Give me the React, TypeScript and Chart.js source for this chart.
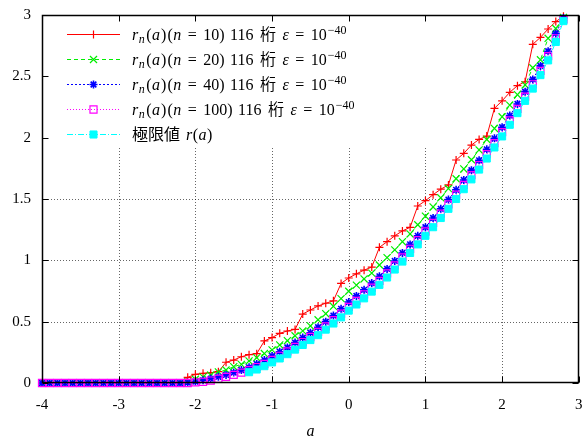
import React, { useEffect, useRef } from 'react';
import { Chart, registerables } from 'chart.js';
import { drawPoint } from 'chart.js/helpers';

Chart.register(...registerables);

// ---- data ----
const aValues = [
  -4, -3.9, -3.8, -3.7, -3.6, -3.5, -3.4, -3.3, -3.2, -3.1, -3, -2.9, -2.8, -2.7, -2.6, -2.5, -2.4, -2.3,
  -2.2, -2.1, -2, -1.9, -1.8, -1.7, -1.6, -1.5, -1.4, -1.3, -1.2, -1.1, -1, -0.9, -0.8, -0.7, -0.6, -0.5,
  -0.4, -0.3, -0.2, -0.1, 0, 0.1, 0.2, 0.3, 0.4, 0.5, 0.6, 0.7, 0.8, 0.9, 1, 1.1, 1.2, 1.3, 1.4, 1.5,
  1.6, 1.7, 1.8, 1.9, 2, 2.1, 2.2, 2.3, 2.4, 2.5, 2.6, 2.7, 2.8,
];

const rN10 = [
  0, 0, 0, 0, 0, 0, 0, 0, 0, 0, 0, 0, 0, 0, 0, 0, 0, 0,
  0, 0.046, 0.071, 0.079, 0.084, 0.092, 0.169, 0.187, 0.214, 0.231, 0.239, 0.343, 0.37, 0.405, 0.424, 0.437, 0.562, 0.595,
  0.628, 0.65, 0.67, 0.812, 0.856, 0.89, 0.92, 0.945, 1.106, 1.152, 1.2, 1.24, 1.269, 1.443, 1.486, 1.535, 1.58, 1.615, 1.818, 1.872,
  1.94, 1.986, 2.013, 2.239, 2.3, 2.37, 2.424, 2.456, 2.761, 2.818, 2.886, 2.946, 2.99,
];

const rN20 = [
  0, 0, 0, 0, 0, 0, 0, 0, 0, 0, 0, 0, 0, 0, 0, 0, 0, 0,
  0, 0.01, 0.03, 0.05, 0.065, 0.09, 0.106, 0.133, 0.152, 0.18, 0.206, 0.24, 0.27, 0.31, 0.345, 0.385, 0.425, 0.465,
  0.515, 0.565, 0.625, 0.688, 0.748, 0.798, 0.848, 0.896, 0.962, 1.022, 1.085, 1.152, 1.215, 1.29, 1.36, 1.435, 1.51, 1.585, 1.665, 1.745,
  1.82, 1.9, 1.985, 2.075, 2.17, 2.265, 2.35, 2.43, 2.57, 2.635, 2.81, 2.89, 2.98,
];

const rN40 = [
  0, 0, 0, 0, 0, 0, 0, 0, 0, 0, 0, 0, 0, 0, 0, 0, 0, 0,
  0, 0.003, 0.012, 0.022, 0.035, 0.05, 0.066, 0.085, 0.105, 0.128, 0.155, 0.187, 0.22, 0.255, 0.29, 0.33, 0.37, 0.41,
  0.455, 0.5, 0.55, 0.605, 0.66, 0.71, 0.76, 0.815, 0.87, 0.93, 0.995, 1.06, 1.13, 1.2, 1.27, 1.345, 1.42, 1.495, 1.575, 1.655,
  1.735, 1.815, 1.905, 1.995, 2.085, 2.18, 2.275, 2.375, 2.475, 2.585, 2.705, 2.85, 2.975,
];

const rN100 = [
  0, 0, 0, 0, 0, 0, 0, 0, 0, 0, 0, 0, 0, 0, 0, 0, 0, 0,
  0, 0, 0.005, 0.01, 0.02, 0.035, 0.05, 0.066, 0.085, 0.105, 0.13, 0.155, 0.188, 0.222, 0.257, 0.295, 0.334, 0.375,
  0.417, 0.462, 0.512, 0.565, 0.62, 0.67, 0.722, 0.777, 0.833, 0.893, 0.958, 1.024, 1.094, 1.165, 1.235, 1.305, 1.38, 1.456, 1.535, 1.615,
  1.695, 1.777, 1.865, 1.955, 2.045, 2.14, 2.235, 2.335, 2.435, 2.545, 2.665, 2.81, 2.965,
];

// the limit curve is only plotted from a = -1.3 on
const rLimit = [
  null, null, null, null, null, null, null, null, null, null, null, null, null, null, null, null, null, null,
  null, null, null, null, null, null, null, null, null, 0.088, 0.11, 0.137, 0.168, 0.2, 0.235, 0.272, 0.31, 0.35,
  0.39, 0.435, 0.485, 0.535, 0.59, 0.64, 0.69, 0.745, 0.8, 0.86, 0.925, 0.99, 1.06, 1.13, 1.2, 1.27, 1.345, 1.42, 1.5, 1.58,
  1.66, 1.74, 1.83, 1.92, 2.01, 2.105, 2.2, 2.3, 2.4, 2.51, 2.63, 2.78, 2.95,
];

const xTicks = [-4, -3, -2, -1, 0, 1, 2, 3];
const xTickLabels = ['-4', '-3', '-2', '-1', '0', '1', '2', '3'];
const yTicks = [0, 0.5, 1, 1.5, 2, 2.5, 3];
const yTickLabels = ['0', '0.5', '1', '1.5', '2', '2.5', '3'];
const xTitle = 'a';
const seriesN = [10, 20, 40, 100];
const digitsText = '116';
const unitText = '桁';
const epsExponent = '−40';
const limitName = '極限値';

// ---- styles ----
const SERIF = '"Liberation Serif", "DejaVu Serif", serif';
const CJK = '"Noto Sans CJK JP", sans-serif';

type Seg = { t: string; it?: boolean; cjk?: boolean; sub?: boolean; sup?: boolean; gap?: number };

function seriesLabel(n: number): Seg[] {
  return [
    { t: 'r', it: true },
    { t: 'n', it: true, sub: true, gap: 0.5 },
    { t: '(', gap: 1.5 },
    { t: 'a', it: true, gap: 0.5 },
    { t: ')', gap: 1 },
    { t: '(', gap: 1 },
    { t: 'n', it: true, gap: 0.5 },
    { t: '=', gap: 6.5 },
    { t: String(n) + ')', gap: 6.5 },
    { t: digitsText, gap: 5.5 },
    { t: unitText, cjk: true, gap: 6.5 },
    { t: 'ε', it: true, gap: 6.5 },
    { t: '=', gap: 6.5 },
    { t: '10', gap: 6.5 },
    { t: epsExponent, sup: true, gap: 1 },
  ];
}

const limitLabel: Seg[] = [
  { t: limitName, cjk: true },
  { t: 'r', it: true, gap: 6 },
  { t: '(', gap: 0.5 },
  { t: 'a', it: true, gap: 0.5 },
  { t: ')', gap: 0.5 },
];

const seriesValues = [rN10, rN20, rN40, rN100, rLimit];
const seriesLabels: Seg[][] = [...seriesN.map(seriesLabel), limitLabel];
const seriesStyles = [
  { color: '#ff0000', dash: [] as number[], point: 'cross', radius: 4, fill: false, bw: 1.2 },
  { color: '#00ee00', dash: [4, 3], point: 'crossRot', radius: 5, fill: false, bw: 1.2 },
  { color: '#0000ff', dash: [2, 2], point: 'star', radius: 4, fill: false, bw: 1.6 },
  { color: '#ff00ff', dash: [1, 2], point: 'rect', radius: 5, fill: false, bw: 1.2 },
  { color: '#00ffff', dash: [6, 2, 1, 2], point: 'rect', radius: 5, fill: true, bw: 1 },
];

const FS = 16;

function drawRich(ctx: CanvasRenderingContext2D, x: number, baseY: number, segs: Seg[]) {
  let cx = x;
  for (const s of segs) {
    if (s.gap) cx += s.gap;
    if (!s.t) continue;
    const size = s.sub || s.sup ? Math.round(FS * 0.72) : FS;
    const fam = s.cjk ? CJK : SERIF;
    ctx.font = `${s.it ? 'italic ' : ''}${size}px ${fam}`;
    let y = baseY;
    if (s.sub) y += 3;
    if (s.sup) y -= 6;
    ctx.fillText(s.t, cx, y);
    cx += ctx.measureText(s.t).width;
  }
}

const framePlugin = {
  id: 'frame',
  beforeDatasetsDraw(chart: any) {
    const { ctx, chartArea: ca, scales } = chart;
    const xs = scales.x;
    const ys = scales.y;
    const legendBottom = ca.top + 132;
    ctx.save();
    ctx.strokeStyle = 'rgba(0,0,0,0.6)';
    ctx.lineWidth = 1;
    ctx.setLineDash([1, 2]);
    for (const v of xTicks.slice(1, -1)) {
      const px = Math.round(xs.getPixelForValue(v)) + 0.5;
      ctx.beginPath();
      ctx.moveTo(px, ca.bottom);
      ctx.lineTo(px, legendBottom);
      ctx.stroke();
    }
    for (const v of yTicks.slice(1, -1)) {
      const py = Math.round(ys.getPixelForValue(v)) + 0.5;
      if (py < legendBottom) continue;
      ctx.beginPath();
      ctx.moveTo(ca.left, py);
      ctx.lineTo(ca.right, py);
      ctx.stroke();
    }
    ctx.restore();
  },
  afterDatasetsDraw(chart: any) {
    const { ctx, chartArea: ca, scales } = chart;
    const xs = scales.x;
    const ys = scales.y;
    const L = Math.round(ca.left) + 0.5;
    const R = Math.round(ca.right) - 0.5;
    const T = Math.round(ca.top) + 0.5;
    const B = Math.round(ca.bottom) - 0.5;
    ctx.save();
    ctx.strokeStyle = '#000';
    ctx.lineWidth = 1.5;
    ctx.setLineDash([]);
    ctx.strokeRect(L, T, R - L, B - T);
    ctx.lineWidth = 1;
    const tl = 6;
    for (const v of xTicks) {
      const px = Math.round(xs.getPixelForValue(v)) + 0.5;
      ctx.beginPath();
      ctx.moveTo(px, B); ctx.lineTo(px, B - tl);
      ctx.moveTo(px, T); ctx.lineTo(px, T + tl);
      ctx.stroke();
    }
    for (const v of yTicks) {
      const py = Math.round(ys.getPixelForValue(v)) + 0.5;
      ctx.beginPath();
      ctx.moveTo(L, py); ctx.lineTo(L + tl, py);
      ctx.moveTo(R, py); ctx.lineTo(R - tl, py);
      ctx.stroke();
    }

    // key
    ctx.fillStyle = '#000';
    ctx.textBaseline = 'alphabetic';
    ctx.textAlign = 'left';
    chart.data.datasets.forEach((_ds: any, i: number) => {
      const st = seriesStyles[i];
      const rowY = Math.round(ca.top + 19 + i * 25) + 0.5;
      const lx0 = ca.left + 25;
      const lx1 = ca.left + 78;
      ctx.save();
      ctx.strokeStyle = st.color;
      ctx.lineWidth = 1;
      ctx.setLineDash(st.dash);
      ctx.beginPath();
      ctx.moveTo(lx0, rowY);
      ctx.lineTo(lx1, rowY);
      ctx.stroke();
      ctx.setLineDash([]);
      ctx.strokeStyle = st.color;
      ctx.fillStyle = st.fill ? st.color : 'rgba(0,0,0,0)';
      ctx.lineWidth = st.bw;
      drawPoint(ctx, { pointStyle: st.point, radius: st.radius, borderWidth: st.bw, rotation: 0 } as any, (lx0 + lx1) / 2, rowY);
      ctx.restore();
      ctx.fillStyle = '#000';
      drawRich(ctx, ca.left + 90, rowY + 5, seriesLabels[i]);
    });
    ctx.restore();
  },
};

export default function App() {
  const ref = useRef<HTMLCanvasElement>(null);
  useEffect(() => {
    const canvas = ref.current;
    if (!canvas) return;
    const tickFont = { family: SERIF, size: 15, lineHeight: 1.2 };
    const datasets = seriesValues.map((vals, i) => {
      const st = seriesStyles[i];
      return {
        label: String(i),
        data: aValues.map((a, k) => ({ x: a, y: vals[k] })),
        borderColor: st.color,
        borderWidth: 1,
        borderDash: st.dash,
        pointStyle: st.point as any,
        pointRadius: st.radius,
        pointBorderColor: st.color,
        pointBackgroundColor: st.fill ? st.color : 'rgba(0,0,0,0)',
        pointBorderWidth: st.bw,
        tension: 0,
        spanGaps: false,
        clip: false as any,
        order: 4 - i,
      };
    });
    const chart = new Chart(canvas, {
      type: 'line',
      data: { datasets },
      options: {
        animation: false,
        responsive: false,
        devicePixelRatio: 1,
        layout: { padding: { top: 15, right: 5, left: 0, bottom: 0 } },
        plugins: { legend: { display: false }, tooltip: { enabled: false } },
        scales: {
          x: {
            type: 'linear',
            min: -4,
            max: 3,
            afterBuildTicks: (s: any) => { s.ticks = xTicks.map((v) => ({ value: v })); },
            afterFit: (s: any) => { s.height = 54; s.paddingLeft = 0; s.paddingRight = 0; },
            ticks: {
              color: '#000',
              font: tickFont,
              padding: 5,
              maxRotation: 0,
              autoSkip: false,
              callback: (_v: any, i: number) => xTickLabels[i],
            },
            grid: { display: false },
            border: { display: false },
            title: {
              display: true,
              text: xTitle,
              color: '#000',
              font: { family: SERIF, size: 16, style: 'italic', lineHeight: 1 },
              padding: { top: 0, bottom: -3 },
            },
          },
          y: {
            type: 'linear',
            min: 0,
            max: 3,
            afterBuildTicks: (s: any) => { s.ticks = yTicks.map((v) => ({ value: v })); },
            afterFit: (s: any) => { s.width = 42; s.paddingTop = 0; s.paddingBottom = 0; },
            ticks: {
              color: '#000',
              font: tickFont,
              padding: 3,
              autoSkip: false,
              callback: (_v: any, i: number) => yTickLabels[i],
            },
            grid: { display: false },
            border: { display: false },
          },
        },
      },
      plugins: [framePlugin],
    });
    return () => chart.destroy();
  }, []);
  return (
    <div style={{ position: 'absolute', left: 0, top: 0, width: 585, height: 437, background: '#fff' }}>
      <canvas ref={ref} width={585} height={437} style={{ display: 'block' }} />
    </div>
  );
}
